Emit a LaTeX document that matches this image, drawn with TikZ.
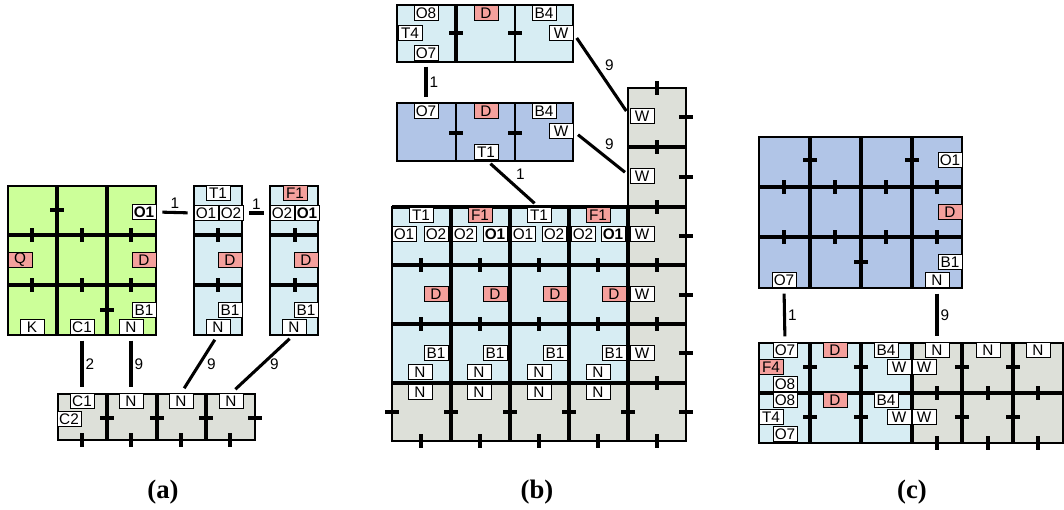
\documentclass[tikz,border=0pt]{standalone}
\usepackage{fontspec}
\setmainfont{Liberation Serif}
\newfontfamily\tagfont{Liberation Sans}
\usepackage{xcolor}
\usepackage{tikz}
\usetikzlibrary{positioning, calc}
\definecolor{roomgreen}{HTML}{CCFF99}
\definecolor{roomblue}{HTML}{D7EDF3}
\definecolor{darkroom}{HTML}{B1C5E7}
\definecolor{hallgray}{HTML}{DDE0D9}
\definecolor{tagred}{HTML}{F4A09C}

\tikzset{
  tag/.style={draw=black, line width=0.5pt, fill=white,
              font=\tagfont\fontsize{11.5}{11.5}\selectfont,
              inner xsep=1.2pt, inner ysep=0pt,
              minimum height=11pt, minimum width=18pt},
  redtag/.style={tag, fill=tagred},
  boldtag/.style={tag, font=\tagfont\bfseries\fontsize{11.5}{11.5}\selectfont},
  link/.style={line width=2.3pt, shorten <=4.5pt, shorten >=4.5pt},
  linklbl/.style={font=\tagfont\fontsize{11.5}{11.5}\selectfont, inner sep=1.5pt},
  wall/.style={line width=1.8pt},
  inwall/.style={line width=2.4pt},
  thickwall/.style={line width=3.2pt},
  door/.style={line width=2.6pt},
  caption/.style={font=\bfseries\fontsize{20}{22}\selectfont}
}

\begin{document}
\begin{tikzpicture}[x=0.75pt, y=-0.75pt]
  \useasboundingbox (0,0) rectangle (1064,510);

  % (a)
  \fill[roomgreen] (8,186) rectangle (156,335);
  \draw[thickwall] (57,186) -- (57,335);
  \draw[inwall] (107,186) -- (107,335);
  \foreach \y in {235,285} \draw[inwall] (8,\y) -- (156,\y);
  \draw[wall] (8,186) rectangle (156,335);
  \foreach \x in {194,270} {
    \fill[roomblue] (\x,186) rectangle (\x+48,335);
    \foreach \y in {235,285} \draw[inwall] (\x,\y) -- (\x+48,\y);
    \draw[wall] (\x,186) rectangle (\x+48,335);
  }
  \fill[hallgray] (58,394) rectangle (255,440);
  \foreach \x in {107,157,206} \draw[inwall] (\x,394) -- (\x,440);
  \draw[wall] (58,394) rectangle (255,440);
  \foreach \x/\y in {57/210,107/310,107/418,157/418,206/418,255/418}
    \draw[door] (\x-7,\y) -- (\x+7,\y);
  \foreach \x/\y in {32/235,82/235,131/235,32/285,82/285,131/285,218/235,218/285,
                     295/235,295/285,82/440,131/440,181/440,230/440}
    \draw[door] (\x,\y-7) -- (\x,\y+7);

  \node[boldtag] (aO1) at (144,212) {O1};
  \node[redtag] (aQ) at (20,260) {Q};
  \node[redtag] (aD) at (144,260) {D};
  \node[tag] (aB1) at (144,310) {B1};
  \node[tag] (aK) at (32,327) {K};
  \node[tag] (aC1) at (82,327) {C1};
  \node[tag] (aN) at (131,327) {N};

  \node[tag] (pT1) at (218,193) {T1};
  \node[tag] (pO1) at (206,213) {O1};
  \node[tag] (pO2) at (231,213) {O2};
  \node[redtag] (pD) at (230,260) {D};
  \node[tag] (pB1) at (230,310) {B1};
  \node[tag] (pN) at (218,327) {N};

  \node[redtag] (qF1) at (295,193) {F1};
  \node[tag] (qO2) at (282,213) {O2};
  \node[boldtag] (qO1) at (307,213) {O1};
  \node[redtag] (qD) at (306,260) {D};
  \node[tag] (qB1) at (306,310) {B1};
  \node[tag] (qN) at (294,327) {N};

  \node[tag] (rC1) at (82,401) {C1};
  \node[tag] (rC2) at (69,419) {C2};
  \node[tag] (rN1) at (131,401) {N};
  \node[tag] (rN2) at (181,401) {N};
  \node[tag] (rN3) at (231,401) {N};

  \draw[link] (aO1.east) -- (pO1.west) node[linklbl, midway, above] {1};
  \draw[link] (pO2.east) -- (qO2.west) node[linklbl, midway, above] {1};
  \draw[link] (aC1.south) -- (rC1.north) node[linklbl, midway, right] {2};
  \draw[link] (aN.south) -- (rN1.north) node[linklbl, midway, right] {9};
  \draw[link] (pN.south) -- (rN2.north) node[linklbl, midway, right=3pt] {9};
  \draw[link] (qN.south) -- (rN3.north) node[linklbl, midway, right=3pt] {9};

  % (b)
  \fill[roomblue] (397,5) rectangle (573,62);
  \draw[thickwall] (456,5) -- (456,62);
  \draw[wall] (515,5) -- (515,62);
  \draw[wall] (397,5) rectangle (573,62);
  \fill[darkroom] (397,103) rectangle (573,161);
  \foreach \x in {456,515} \draw[wall] (\x,103) -- (\x,161);
  \draw[wall] (397,103) rectangle (573,161);

  \fill[roomblue] (392,207) rectangle (628,383);
  \fill[hallgray] (392,383) rectangle (628,441);
  \fill[hallgray] (628,88) rectangle (686,441);
  \foreach \x in {451,510,569} \draw[inwall] (\x,207) -- (\x,441);
  \foreach \y in {265,324} \draw[inwall] (392,\y) -- (686,\y);
  \draw[thickwall] (392,383) -- (686,383);
  \draw[thickwall] (628,207) -- (628,441);
  \draw[thickwall] (628,147) -- (686,147);
  \draw[thickwall] (392,207) -- (686,207);
  \draw[wall] (392,207) -- (628,207) -- (628,88) -- (686,88) -- (686,441) -- (392,441) -- cycle;
  \foreach \x/\y in {456/33,515/33,456/133,515/133,
                     686/117,686/177,686/236,686/295,686/353,686/412,
                     392/412,451/412,510/412,569/412,628/412}
    \draw[door] (\x-7,\y) -- (\x+7,\y);
  \foreach \x in {421,480,539,598}
    \foreach \y in {265,324,441}
      \draw[door] (\x,\y-7) -- (\x,\y+7);
  \foreach \y in {88,147,207,265,324,383,441}
    \draw[door] (657,\y-7) -- (657,\y+7);

  \node[tag] (eO8) at (426,13) {O8};
  \node[tag] (eT4) at (410,33) {T4};
  \node[tag] (eO7) at (426,53) {O7};
  \node[redtag] (eD) at (486,13) {D};
  \node[tag] (eB4) at (544,13) {B4};
  \node[tag] (eW) at (561,33) {W};

  \node[tag] (fO7) at (426,111) {O7};
  \node[redtag] (fD) at (486,111) {D};
  \node[tag] (fB4) at (544,111) {B4};
  \node[tag] (fW) at (561,131) {W};
  \node[tag] (fT1) at (486,152) {T1};

  \node[tag] (hT1) at (421,215) {T1};
  \node[redtag] (hF1) at (480,215) {F1};
  \node[tag] (hT2) at (539,215) {T1};
  \node[redtag] (hF2) at (598,215) {F1};
  \foreach \x/\t/\s [count=\i] in {404/O1/tag,436/O2/tag,464/O2/tag,495/O1/boldtag,
                                   523/O1/tag,554/O2/tag,583/O2/tag,613/O1/boldtag}
    \node[\s] (hO\i) at (\x,234) {\t};
  \foreach \x [count=\i] in {436,495,555,614} {
    \node[redtag] (hD\i) at (\x,294) {D};
    \node[tag] (hB\i) at (\x,353) {B1};
  }
  \foreach \x [count=\i] in {420,479,539,598} {
    \node[tag] (hN\i) at (\x,372) {N};
    \node[tag] (hM\i) at (\x,392) {N};
  }
  \foreach \y [count=\i] in {116,176,234,294,353}
    \node[tag] (gW\i) at (642,\y) {W};

  \draw[link] (eO7.south) -- (fO7.north) node[linklbl, midway, right] {1};
  \draw[link] (eW.east) -- (gW1.west) node[linklbl, midway, above right] {9};
  \draw[link] (fW.east) -- (gW2.west) node[linklbl, midway, above right] {9};
  \draw[link] (fT1.south) -- (hT2.north) node[linklbl, midway, above right] {1};

  % (c)
  \fill[darkroom] (759,137) rectangle (962,288);
  \foreach \x in {810,861,912} \draw[inwall] (\x,137) -- (\x,288);
  \foreach \y in {187,237} \draw[inwall] (759,\y) -- (962,\y);
  \draw[wall] (759,137) rectangle (962,288);
  \fill[roomblue] (759,343) rectangle (912,443);
  \fill[hallgray] (912,343) rectangle (1063,443);
  \foreach \x in {810,861,912,962,1013} \draw[inwall] (\x,343) -- (\x,443);
  \draw[inwall] (759,393) -- (1063,393);
  \draw[wall] (759,343) rectangle (1063,443);
  \foreach \x/\y in {810/160,912/160,861/262,
                     810/367,861/367,962/367,1013/367,810/417,861/417,962/417,1013/417}
    \draw[door] (\x-7,\y) -- (\x+7,\y);
  \foreach \x/\y in {784/187,835/187,886/187,937/187,784/237,835/237,886/237,937/237,
                     937/393,988/393,1038/393,937/443,988/443,1038/443}
    \draw[door] (\x,\y-7) -- (\x,\y+7);

  \node[tag] (iO1) at (950,160) {O1};
  \node[redtag] (iD) at (950,212) {D};
  \node[tag] (iB1) at (950,262) {B1};
  \node[tag] (iN) at (937,280) {N};
  \node[tag] (iO7) at (784,280) {O7};

  \node[tag] (jO7) at (785,350) {O7};
  \node[redtag] (jF4) at (771,367) {F4};
  \node[tag] (jO8) at (785,384) {O8};
  \node[redtag] (jD) at (835,350) {D};
  \node[tag] (jB4) at (886,350) {B4};
  \node[tag] (jW1) at (899,367) {W};
  \node[tag] (jW2) at (924,367) {W};
  \node[tag] (jN1) at (937,350) {N};
  \node[tag] (jN2) at (988,350) {N};
  \node[tag] (jN3) at (1038,350) {N};

  \node[tag] (kO8) at (785,400) {O8};
  \node[tag] (kT4) at (771,417) {T4};
  \node[tag] (kO7) at (785,434) {O7};
  \node[redtag] (kD) at (835,400) {D};
  \node[tag] (kB4) at (886,400) {B4};
  \node[tag] (kW1) at (899,417) {W};
  \node[tag] (kW2) at (924,417) {W};

  \draw[link] (iO7.south) -- (jO7.north) node[linklbl, midway, right] {1};
  \draw[link] (iN.south) -- (jN1.north) node[linklbl, midway, right] {9};

  \node[caption] (capa) at (163,492) {(a)};
  \node[caption] (capb) at (537,492) {(b)};
  \node[caption] (capc) at (912,492) {(c)};
\end{tikzpicture}
\end{document}
